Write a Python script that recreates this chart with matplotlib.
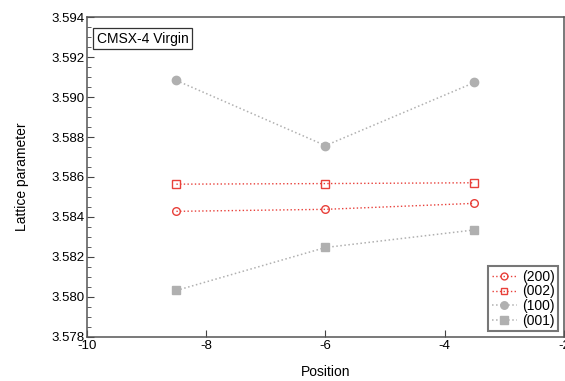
import matplotlib
matplotlib.use("Agg")
import matplotlib.pyplot as plt
from matplotlib.ticker import MultipleLocator

plt.rcParams['font.family'] = ['Liberation Sans', 'DejaVu Sans']
plt.rcParams['axes.unicode_minus'] = False

position = [-8.5, -6.0, -3.5]
a_200 = [3.58428, 3.58438, 3.58468]
a_002 = [3.58564, 3.58567, 3.58571]
a_100 = [3.59083, 3.58757, 3.59073]
a_001 = [3.58032, 3.58247, 3.58335]

red = '#e8403a'
grey = '#b0b0b0'

fig = plt.figure(figsize=(5.65, 3.81), dpi=100)
ax = fig.add_axes([0.154, 0.116, 0.844, 0.839])

ax.plot(position, a_200, ':', color=red, lw=1, marker='o', ms=5.5,
        mfc='none', mec=red, mew=1, label='(200)')
ax.plot(position, a_002, ':', color=red, lw=1, marker='s', ms=5.5,
        mfc='none', mec=red, mew=1, label='(002)')
ax.plot(position, a_100, ':', color=grey, lw=1.1, marker='o', ms=6,
        mfc=grey, mec=grey, label='(100)')
ax.plot(position, a_001, ':', color=grey, lw=1.1, marker='s', ms=6,
        mfc=grey, mec=grey, label='(001)')

ax.set_xlim(-10, -2)
ax.set_ylim(3.578, 3.594)
ax.xaxis.set_major_locator(MultipleLocator(2))
ax.yaxis.set_major_locator(MultipleLocator(0.002))
ax.yaxis.set_minor_locator(MultipleLocator(0.0005))
ax.yaxis.set_major_formatter(plt.FormatStrFormatter('%.3f'))
ax.tick_params(direction='in', labelsize=9.5, color='#444444', pad=2)
ax.tick_params(axis='y', which='major', length=5)
ax.tick_params(axis='y', which='minor', length=3, direction='in', color='#444444')
ax.tick_params(axis='x', length=5)
for s in ax.spines.values():
    s.set_color('#555555')
    s.set_linewidth(1.1)

ax.set_xlabel('Position', fontsize=10, labelpad=10)
ax.set_ylabel('Lattice parameter', fontsize=10, labelpad=16)

ax.text(0.02, 0.955, 'CMSX-4 Virgin', transform=ax.transAxes, fontsize=10,
        va='top', ha='left',
        bbox=dict(boxstyle='square,pad=0.25', fc='white', ec='#333333', lw=0.9))

leg = ax.legend(loc='lower right', fontsize=10, frameon=True, fancybox=False,
                shadow=False, edgecolor='#555555', handlelength=1.8,
                handletextpad=0.4, labelspacing=0.05, borderpad=0.25,
                borderaxespad=0.4, markerscale=0.9)
leg.get_frame().set_linewidth(1.5)

fig.savefig('out.png', dpi=100)
